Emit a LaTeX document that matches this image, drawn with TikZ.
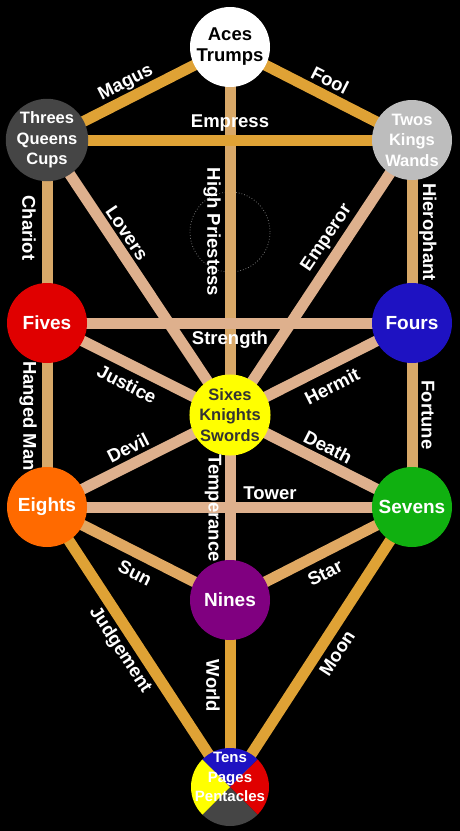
\documentclass[tikz,border=0pt]{standalone}
\usepackage{fontspec}
\setmainfont{Liberation Sans}
\definecolor{gold}{HTML}{DFA235}
\definecolor{pinktan}{HTML}{DEB08D}
\definecolor{ochre}{HTML}{D8A868}
\definecolor{suncol}{HTML}{E0A862}
\definecolor{darkgrey}{HTML}{454545}
\definecolor{lightgrey}{HTML}{BDBDBD}
\definecolor{sred}{HTML}{E00000}
\definecolor{sblue}{HTML}{1E12C2}
\definecolor{syellow}{HTML}{FFFF00}
\definecolor{sorange}{HTML}{FF6A00}
\definecolor{sgreen}{HTML}{10B010}
\definecolor{spurple}{HTML}{800080}
\pgfdeclarelayer{back}
\pgfdeclarelayer{bg}
\pgfsetlayers{back,bg,main}
\begin{document}
\begin{tikzpicture}[x=1pt,y=-1pt,
  pathline/.style={line width=11pt},
  sefira/.style={circle, minimum size=80pt, inner sep=0pt, align=center, text=white,
    font=\bfseries\fontsize{19}{21}\selectfont},
  triple/.style={sefira, font=\bfseries\fontsize{16.5}{20.5}\selectfont},
  lbl/.style={text=white, inner sep=0pt, font=\bfseries\fontsize{18.5}{20}\selectfont}]
\begin{pgfonlayer}{back}
\fill[black] (0,0) rectangle (460,831);
\end{pgfonlayer}
\useasboundingbox (0,0) rectangle (460,831);

% sefirot
\node[sefira, fill=white, text=black, font=\bfseries\fontsize{18.5}{21}\selectfont] (aces) at (230,47) {Aces\\Trumps};
\node[triple, fill=darkgrey] (threes) at (47,140) {Threes\\Queens\\Cups};
\node[triple, fill=lightgrey] (twos) at (412,140) {Twos\\Kings\\Wands};
\node[sefira, fill=sred] (fives) at (47,323) {Fives};
\node[sefira, fill=sblue] (fours) at (412,323) {Fours};
\node[triple, fill=syellow, text=black!80] (sixes) at (230,415) {Sixes\\Knights\\Swords};
\node[sefira, fill=sorange] (eights) at (47,507) {Eights};
\node[sefira, fill=sgreen] (sevens) at (412,507) {Sevens};
\node[sefira, fill=spurple] (nines) at (230,600) {Nines};
\node[circle, minimum size=78pt, inner sep=0pt] (tens) at (230,787) {};
\begin{scope}
  \clip (tens.center) circle (39);
  \fill[sblue] (tens.center) -- ++(-50,-50) -- ++(100,0) -- cycle;
  \fill[sred] (tens.center) -- ++(50,-50) -- ++(0,100) -- cycle;
  \fill[darkgrey] (tens.center) -- ++(50,50) -- ++(-100,0) -- cycle;
  \fill[syellow] (tens.center) -- ++(-50,50) -- ++(0,-100) -- cycle;
\end{scope}
\node[align=center, text=white, inner sep=0pt, font=\bfseries\fontsize{15}{19.5}\selectfont] (tenstext) at (230,777) {Tens\\Pages\\Pentacles};

% paths
\begin{pgfonlayer}{bg}
\node[circle, minimum size=80pt, inner sep=0pt, draw=black!55!white, dotted, line width=0.8pt] (daat) at (230,232) {};
\draw[pathline, ochre] (aces.center) -- (sixes.center);
\draw[pathline, pinktan] (sixes.center) -- (nines.center);
\draw[pathline, gold] (nines.center) -- (tens.center);
\draw[pathline, gold] (threes.center) -- (aces.center);
\draw[pathline, gold] (aces.center) -- (twos.center);
\draw[pathline, ochre] (threes.center) -- (fives.center);
\draw[pathline, ochre] (twos.center) -- (fours.center);
\draw[pathline, pinktan] (threes.center) -- (sixes.center);
\draw[pathline, pinktan] (twos.center) -- (sixes.center);
\draw[pathline, pinktan] (fives.center) -- (sixes.center);
\draw[pathline, pinktan] (fours.center) -- (sixes.center);
\draw[pathline, pinktan] (eights.center) -- (sixes.center);
\draw[pathline, pinktan] (sevens.center) -- (sixes.center);
\draw[pathline, ochre] (fives.center) -- (eights.center);
\draw[pathline, ochre] (fours.center) -- (sevens.center);
\draw[pathline, suncol] (eights.center) -- (nines.center);
\draw[pathline, suncol] (sevens.center) -- (nines.center);
\draw[pathline, gold] (eights.center) -- (tens.center);
\draw[pathline, gold] (sevens.center) -- (tens.center);
\draw[pathline, gold] (threes.center) -- (twos.center);
\draw[pathline, pinktan] (fives.center) -- (fours.center);
\draw[pathline, pinktan] (eights.center) -- (sevens.center);
\end{pgfonlayer}

% labels
\node[lbl, rotate=27] (lmagus) at (126,83) {Magus};
\node[lbl, rotate=-27] (lfool) at (330,80) {Fool};
\node[lbl] (lempress) at (230,123) {Empress};
\node[lbl, rotate=-90] (lhigh) at (212,232) {High Priestess};
\node[lbl, rotate=-90] (lchariot) at (29,228) {Chariot};
\node[lbl, rotate=-56] (llovers) at (127,233) {Lovers};
\node[lbl, rotate=56] (lemperor) at (327,238) {Emperor};
\node[lbl, rotate=-90] (lhiero) at (428,232) {Hierophant};
\node[lbl] (lstrength) at (230,340) {Strength};
\node[lbl, rotate=-27] (ljustice) at (127,384) {Justice};
\node[lbl, rotate=27] (lhermit) at (332,386) {Hermit};
\node[lbl, rotate=-90] (lhanged) at (28,416) {Hanged Man};
\node[lbl, rotate=-90] (lfortune) at (428,415) {Fortune};
\node[lbl, rotate=27] (ldevil) at (128,448) {Devil};
\node[lbl, rotate=-27] (ldeath) at (328,447) {Death};
\node[lbl, rotate=-90] (ltemper) at (213,508) {Temperance};
\node[lbl] (ltower) at (270,493) {Tower};
\node[lbl, rotate=-27] (lsun) at (135,573) {Sun};
\node[lbl, rotate=27] (lstar) at (325,573) {Star};
\node[lbl, rotate=-57] (ljudge) at (120,650) {Judgement};
\node[lbl, rotate=57] (lmoon) at (337,653) {Moon};
\node[lbl, rotate=-90] (lworld) at (213,686) {World};
\end{tikzpicture}
\end{document}
